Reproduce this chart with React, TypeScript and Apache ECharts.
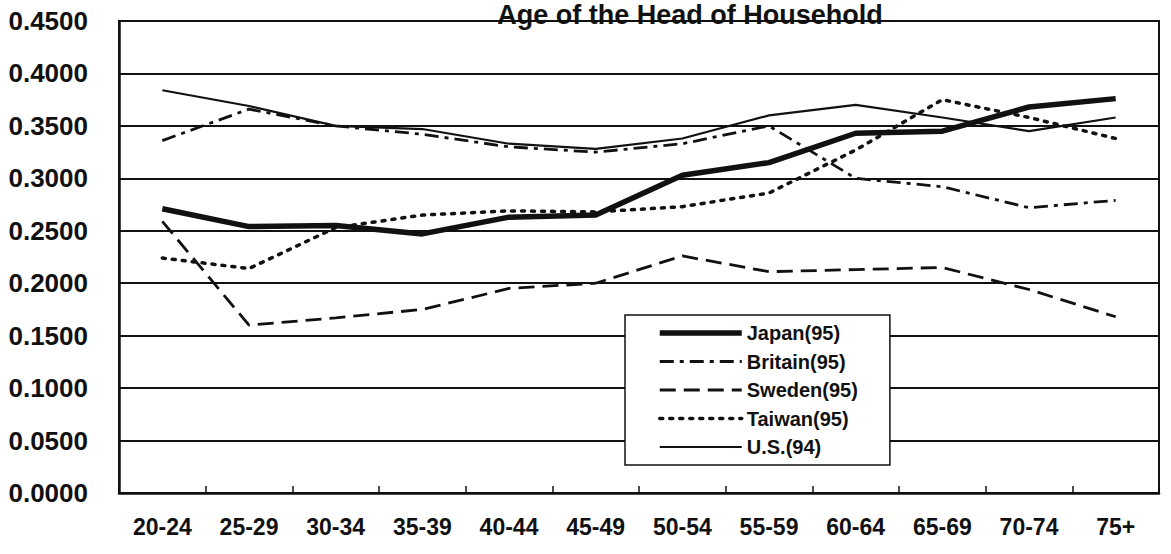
import React, { useEffect, useRef } from "react";
import * as echarts from "echarts";

const categories = ["20-24", "25-29", "30-34", "35-39", "40-44", "45-49", "50-54", "55-59", "60-64", "65-69", "70-74", "75+"];
const japan = [0.271, 0.254, 0.255, 0.247, 0.263, 0.265, 0.303, 0.315, 0.343, 0.345, 0.368, 0.376];
const britain = [0.336, 0.366, 0.350, 0.342, 0.330, 0.325, 0.333, 0.350, 0.300, 0.292, 0.272, 0.279];
const sweden = [0.259, 0.160, 0.167, 0.175, 0.195, 0.200, 0.226, 0.211, 0.213, 0.215, 0.194, 0.168];
const taiwan = [0.224, 0.214, 0.253, 0.265, 0.269, 0.268, 0.273, 0.286, 0.327, 0.375, 0.358, 0.338];
const us = [0.384, 0.369, 0.350, 0.347, 0.333, 0.328, 0.338, 0.360, 0.370, 0.358, 0.345, 0.358];
const titleText = "Age of the Head of Household";

export default function App() {
  const ref = useRef<HTMLDivElement>(null);
  useEffect(() => {
    if (!ref.current) return;
    const chart = echarts.init(ref.current, undefined, { renderer: "svg" });
    const ink = "#111";
    const font = "'Liberation Sans', Arial, sans-serif";
    chart.setOption({
      animation: false,
      backgroundColor: "#fff",
      graphic: [
        {
          type: "text",
          x: 690,
          y: 1,
          style: {
            text: titleText,
            fontFamily: font,
            fontWeight: "bold",
            fontStyle: "normal",
            fontSize: 27,
            fill: ink,
            align: "center",
            verticalAlign: "top",
          },
        },
      ],
      grid: {
        left: 119,
        right: 12,
        top: 21,
        bottom: 61,
        show: true,
        borderColor: ink,
        borderWidth: 2,
        backgroundColor: "transparent",
      },
      legend: {
        orient: "vertical",
        left: 625,
        top: 315,
        backgroundColor: "#fff",
        borderColor: ink,
        borderWidth: 1.5,
        borderRadius: 0,
        padding: [8, 32, 8, 32],
        itemWidth: 82,
        itemHeight: 14,
        itemGap: 8.5,
        itemStyle: { opacity: 0 },
        lineStyle: { width: "inherit" },
        textStyle: { fontFamily: font, fontWeight: "bold", fontSize: 20, color: ink, lineHeight: 20 },
        data: ["Japan(95)", "Britain(95)", "Sweden(95)", "Taiwan(95)", "U.S.(94)"],
      },
      xAxis: {
        type: "category",
        data: categories,
        boundaryGap: true,
        axisLine: { lineStyle: { color: ink, width: 2.5 } },
        axisTick: { show: true, inside: true, length: 7, lineStyle: { color: ink, width: 1.5 } },
        axisLabel: { margin: 22, fontFamily: font, fontWeight: "bold", fontSize: 23, color: ink },
        splitLine: { show: false },
      },
      yAxis: {
        type: "value",
        min: 0,
        max: 0.45,
        interval: 0.05,
        axisLine: { show: true, lineStyle: { color: ink, width: 2.5 } },
        axisTick: { show: false },
        axisLabel: {
          margin: 31,
          fontFamily: font,
          fontWeight: "bold",
          fontSize: 26,
          color: ink,
          formatter: (v: number) => v.toFixed(4),
        },
        splitLine: { show: true, lineStyle: { color: ink, width: 1.8 } },
      },
      series: [
        {
          name: "Japan(95)",
          type: "line",
          data: japan,
          symbol: "none",
          lineStyle: { color: ink, width: 5.5, type: "solid" },
          itemStyle: { color: ink },
          z: 5,
        },
        {
          name: "Britain(95)",
          type: "line",
          data: britain,
          symbol: "none",
          lineStyle: { color: ink, width: 2.8, type: [14, 6, 4, 6] },
          itemStyle: { color: ink },
        },
        {
          name: "Sweden(95)",
          type: "line",
          data: sweden,
          symbol: "none",
          lineStyle: { color: ink, width: 2.8, type: [16, 8] },
          itemStyle: { color: ink },
        },
        {
          name: "Taiwan(95)",
          type: "line",
          data: taiwan,
          symbol: "none",
          lineStyle: { color: ink, width: 3.5, type: [3, 7], cap: "round" },
          itemStyle: { color: ink },
        },
        {
          name: "U.S.(94)",
          type: "line",
          data: us,
          symbol: "none",
          lineStyle: { color: ink, width: 2.2, type: "solid" },
          itemStyle: { color: ink },
        },
      ],
    });
    return () => chart.dispose();
  }, []);
  return <div ref={ref} style={{ position: "absolute", left: 0, top: 0, width: 1171, height: 554 }} />;
}
